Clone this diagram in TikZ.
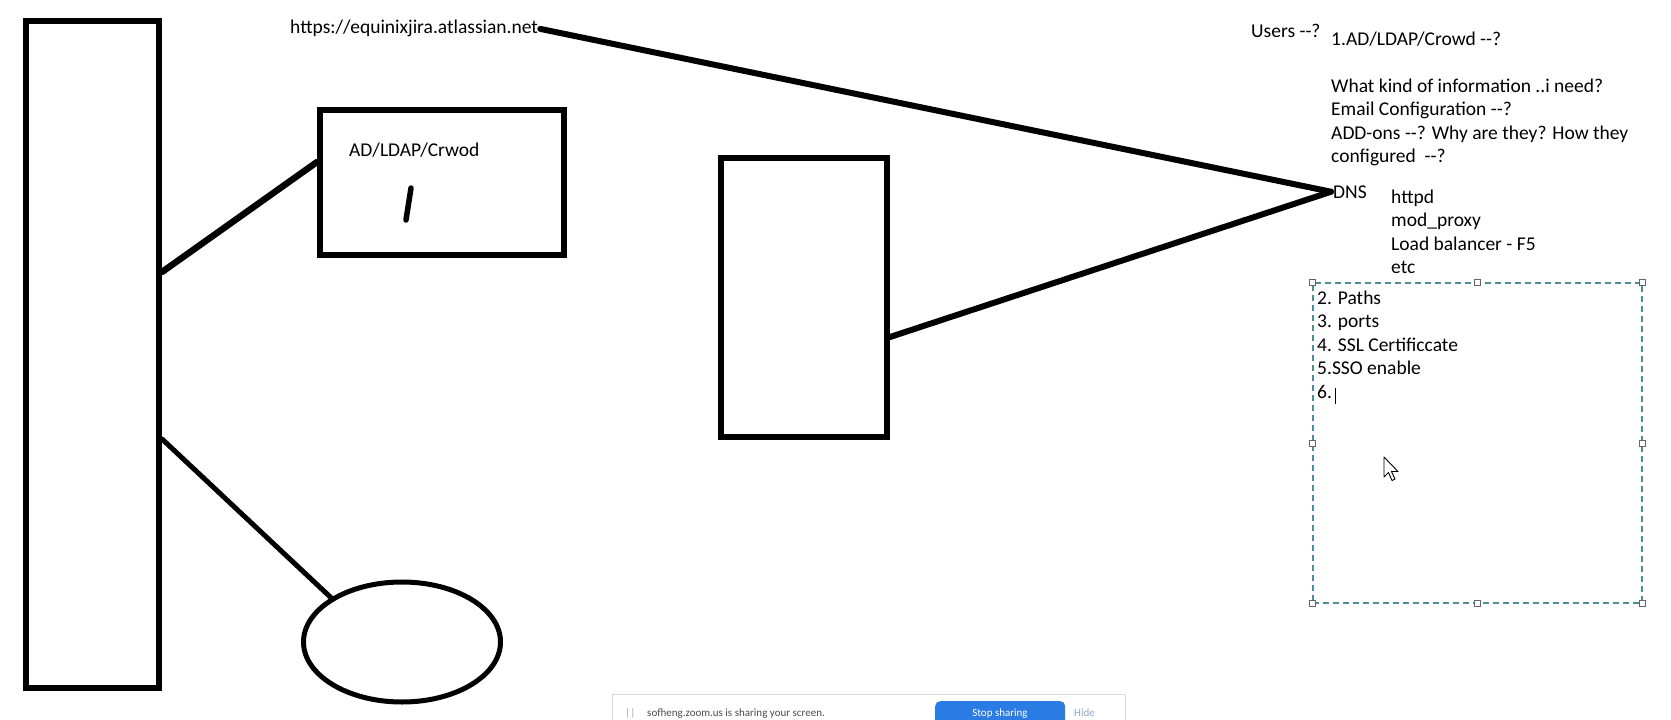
\documentclass[tikz,border=0pt]{standalone}
\usepackage{fontspec}
\setmainfont{Carlito}[Ligatures=TeXOff]
\usetikzlibrary{shapes.geometric}
\definecolor{selectTeal}{HTML}{4E8C96}
\definecolor{shareBlue}{HTML}{2B7BE4}
\definecolor{hideBlue}{HTML}{8FA6C8}
\newcommand{\notefont}{\fontsize{19.5}{23.5}\selectfont}
\newcommand{\barfont}{\fontsize{11}{12}\selectfont}

\begin{document}
\begin{tikzpicture}[x=1pt, y=-1pt,
    box/.style={draw, line width=6pt, inner sep=0pt},
    wire/.style={line width=6pt, line cap=round},
    note/.style={inner sep=0pt, anchor=base west, font=\notefont},
    grip/.style={draw=black!60, fill=white, line width=0.8pt, minimum size=6pt, inner sep=0pt}]
  \useasboundingbox (0,0) rectangle (1671,720);
  \clip (0,0) rectangle (1671,720);

  % whiteboard shapes
  \node[box, minimum width=133pt, minimum height=667pt] (client) at (92.5,354.5) {};
  \node[box, minimum width=244pt, minimum height=145pt] (ldapbox) at (442,182.5) {};
  \node[box, minimum width=166pt, minimum height=279pt] (server) at (804,297.5) {};
  \node[box, ellipse, line width=5pt, minimum width=197pt, minimum height=120pt] (store) at (402,642) {};

  \node[note] (ldaptext) at (349,156) {AD/LDAP/Crwod};
  \draw[wire, line width=5.5pt] (411,188) -- (406,220);

  \node[note, inner sep=2pt] (url) at (288,34) {https://equinixjira.atlassian.net};
  \node[note, inner sep=2pt] (dns) at (1331,198) {DNS};

  \draw[wire, line width=6.5pt] ([yshift=82.5pt]client.east) -- ([yshift=20.5pt]ldapbox.west);
  \draw[wire, line width=5pt] ([yshift=-84.5pt]client.east) -- (store.148);
  \draw[wire] (url.east) -- (dns.west);
  \draw[wire] ([yshift=-39.5pt]server.east) -- (dns.west);

  % notes
  \node[note] (users) at (1251,37) {Users --?};
  \node[note] (ask1) at (1331,45) {1.AD/LDAP/Crowd --?};
  \node[note] (ask2) at (1331,92) {What kind of information ..i need?};
  \node[note] (ask3) at (1331,115.5) {Email Configuration --?};
  \node[note] (ask4) at (1331,139) {ADD-ons --? Why are they? How they};
  \node[note] (ask5) at (1331,162.5) {configured~ --?};
  \node[note] (web1) at (1391,203) {httpd};
  \node[note] (web2) at (1391,226.5) {mod\_proxy};
  \node[note] (web3) at (1391,250) {Load balancer - F5};
  \node[note] (web4) at (1391,273.5) {etc};

  % selected text frame
  \node[draw=selectTeal, dash pattern=on 6pt off 4pt, line width=1.2pt, minimum width=329pt, minimum height=320pt] (frame) at (1477.5,443) {};
  \foreach \a/\n in {north west/1, north/2, north east/3, east/4, south east/5, south/6, south west/7, west/8}
    \node[grip] (grip\n) at (frame.\a) {};
  \node[note] (item2) at (1317,304) {2. Paths};
  \node[note] (item3) at (1317,327.5) {3. ports};
  \node[note] (item4) at (1317,351) {4. SSL Certificcate};
  \node[note] (item5) at (1317,374.5) {5.SSO enable};
  \node[note] (item6) at (1317,398) {6.};
  \draw[line width=1pt] (1335,388) -- (1335,404);

  % mouse pointer
  \draw[fill=white, line width=0.9pt, line join=round] (1384,457) -- ++(0,20) -- ++(4.5,-4.5) -- ++(3.5,8)
    -- ++(3,-1.5) -- ++(-3.5,-7.5) -- ++(6.5,0) -- cycle;

  % screen share bar
  \node[draw=black!15, fill=white, line width=1pt, minimum width=513pt, minimum height=60pt, anchor=north west] (sharebar) at (612,694) {};
  \node[fill=shareBlue, rounded corners=5pt, minimum width=130pt, minimum height=40pt, anchor=north west] (stopbtn) at (935,701) {};
  \node[note, font=\barfont, text=white, anchor=base] (stoptext) at (1000,716.5) {Stop sharing};
  \node[note, font=\barfont, text=black!35] (dragmark) at (625,716.5) {||};
  \node[note, font=\barfont, text=black!70] (sharemsg) at (647,716.5) {sofheng.zoom.us is sharing your screen.};
  \node[note, font=\barfont, text=hideBlue] (hidebtn) at (1074,716.5) {Hide};
\end{tikzpicture}
\end{document}
